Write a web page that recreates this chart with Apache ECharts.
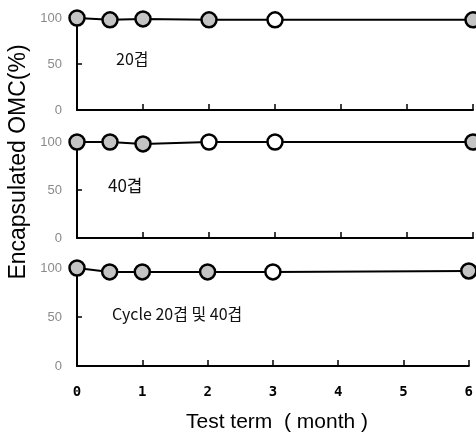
<!DOCTYPE html>
<html><head><meta charset="utf-8">
<script src="https://cdn.jsdelivr.net/npm/echarts@6/dist/echarts.min.js"></script>
<style>html,body{margin:0;padding:0;background:#fff}#c{width:476px;height:439px}</style>
</head><body><div id="c"></div>
<script>
const months = [0, 0.5, 1, 2, 3, 6];
const panelLabels = ['20겹', '40겹', 'Cycle 20겹 및 40겹'];
const values20 = [100, 98, 99, 98, 98, 98];
const values40 = [100, 100, 98, 100, 100, 100];
const valuesCycle = [100, 96, 96, 96, 96, 97];
const filled20 = [true, true, true, true, false, true];
const filled40 = [true, true, true, false, false, true];
const filledCycle = [true, true, true, true, false, true];
const xTicks = [0, 1, 2, 3, 4, 5, 6];
const yTicks = [0, 50, 100];

const panels = [
  {vals: values20, fill: filled20},
  {vals: values40, fill: filled40},
  {vals: valuesCycle, fill: filledCycle}
];
const grids = [
  {left: 77, width: 396, top: 18, height: 92},
  {left: 77, width: 396, top: 142, height: 96},
  {left: 77, width: 396, top: 268, height: 98}
];
const chart = echarts.init(document.getElementById('c'));
const axisLine = {show: true, lineStyle: {color: '#000', width: 2}};
const option = {
  animation: false,
  grid: grids,
  xAxis: grids.map((g, i) => ({
    type: 'value', gridIndex: i, min: 0, max: 6, interval: 1,
    axisLine: axisLine,
    axisTick: {show: true, inside: true, length: 6, lineStyle: {color: '#000', width: 1.5}},
    axisLabel: {show: i === 2, margin: 19, color: '#000', fontWeight: 'bold', fontSize: 14, fontFamily: 'DejaVu Sans Mono',
      formatter: v => xTicks.includes(v) ? String(v) : ''},
    splitLine: {show: false}
  })),
  yAxis: grids.map((g, i) => ({
    type: 'value', gridIndex: i, min: 0, max: 100, interval: 50,
    axisLine: axisLine,
    axisTick: {show: true, inside: true, length: 5, lineStyle: {color: '#000', width: 1.5}},
    axisLabel: {color: '#8a8a8a', fontSize: 13, margin: 15, fontFamily: 'Liberation Sans',
      formatter: v => yTicks.includes(v) ? String(v) : ''},
    splitLine: {show: false}
  })),
  series: panels.map((p, i) => ({
    type: 'line', xAxisIndex: i, yAxisIndex: i,
    symbol: 'circle', symbolSize: 15,
    lineStyle: {color: '#000', width: 2},
    data: months.map((m, j) => ({
      value: [m, p.vals[j]],
      itemStyle: {color: p.fill[j] ? '#c4c4c4' : '#fff', borderColor: '#000', borderWidth: 2.5}
    })),
    clip: false
  })),
  graphic: [
    {type: 'text', left: 116, top: 51, style: {text: panelLabels[0], fontSize: 16, fill: '#111', fontFamily: 'Noto Sans CJK KR'}},
    {type: 'text', left: 108, top: 177, style: {text: panelLabels[1], fontSize: 17, fill: '#111', fontFamily: 'Noto Sans CJK KR'}},
    {type: 'text', left: 112, top: 306, style: {text: panelLabels[2], fontSize: 16, fill: '#111', fontFamily: 'Noto Sans CJK KR'}},
    {type: 'text', x: 19, y: 162, rotation: Math.PI / 2, style: {text: 'Encapsulated OMC(%)', fontSize: 23, fill: '#000', fontFamily: 'Liberation Sans', align: 'center', verticalAlign: 'middle'}},
    {type: 'text', x: 277, y: 422, style: {text: 'Test term  ( month )', fontSize: 21, fill: '#000', fontFamily: 'Liberation Sans', align: 'center', verticalAlign: 'middle'}}
  ]
};
chart.setOption(option);
</script>
</body></html>
